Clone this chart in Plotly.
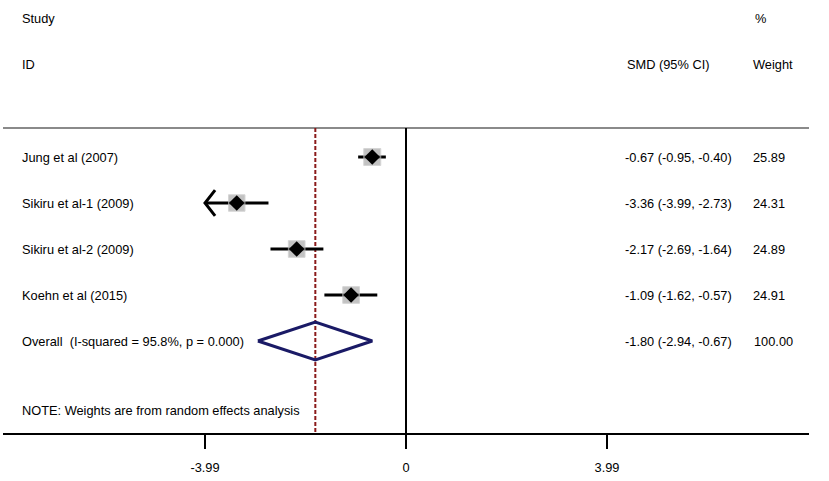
import plotly.graph_objects as go

# ---- data ----
studies = ["Jung et al (2007)", "Sikiru et al-1 (2009)", "Sikiru et al-2 (2009)", "Koehn et al (2015)"]
smd = [-0.67, -3.36, -2.17, -1.09]
ci_lo = [-0.95, -3.99, -2.69, -1.62]
ci_hi = [-0.40, -2.73, -1.64, -0.57]
weights = [25.89, 24.31, 24.89, 24.91]

overall_label = "Overall  (I-squared = 95.8%, p = 0.000)"
overall_smd = -1.80
overall_lo = -2.94
overall_hi = -0.67
overall_weight = 100.00

tick_vals = [-3.99, 0, 3.99]
tick_text = ["-3.99", "0", "3.99"]
note = "NOTE: Weights are from random effects analysis"

# ---- layout helpers ----
W, H = 829, 481
ML, MR, MT, MB = 3, 20, 0, 48
FONT = "Liberation Sans, Arial, sans-serif"
FS = 12.8
clip = min(tick_vals)

rows = list(range(len(studies)))
overall_row = len(studies)
top_line_row = -0.63
axis_row = 6.0


def px2paper(px):
    return (px - ML) / (W - ML - MR)


fig = go.Figure()

# CI lines
xs, ys = [], []
for r, lo, hi in zip(rows, ci_lo, ci_hi):
    xs += [max(lo, clip), hi, None]
    ys += [r, r, None]
fig.add_trace(go.Scatter(x=xs, y=ys, mode="lines", line=dict(color="black", width=3),
                         hoverinfo="skip", showlegend=False))

# arrows for clipped CIs
ax, ay = [], []
for r, lo in zip(rows, ci_lo):
    if lo <= clip:
        ax += [clip + 0.2, clip, clip + 0.2, None]
        ay += [r - 0.28, r, r + 0.28, None]
if ax:
    fig.add_trace(go.Scatter(x=ax, y=ay, mode="lines", line=dict(color="black", width=3),
                             hoverinfo="skip", showlegend=False))

# weight boxes
maxw = max(weights)
fig.add_trace(go.Scatter(x=smd, y=rows, mode="markers",
                         marker=dict(symbol="square", size=[17 * (w / maxw) ** 0.5 for w in weights],
                                     color="#a9a9a9", line=dict(width=1, color="#c4c4c4")),
                         hoverinfo="skip", showlegend=False))
# point estimates
fig.add_trace(go.Scatter(x=smd, y=rows, mode="markers",
                         marker=dict(symbol="diamond", size=12, color="black", line=dict(width=0)),
                         hoverinfo="skip", showlegend=False))

# overall diamond
hh = 0.41
fig.add_trace(go.Scatter(
    x=[overall_lo, overall_smd, overall_hi, overall_smd, overall_lo],
    y=[overall_row, overall_row - hh, overall_row, overall_row + hh, overall_row],
    mode="lines", line=dict(color="#1a1a66", width=3), hoverinfo="skip", showlegend=False))

# shapes
fig.add_shape(type="line", xref="paper", yref="y", x0=0, x1=1, y0=top_line_row, y1=top_line_row,
              line=dict(color="#8a8a8a", width=2), layer="below")
fig.add_shape(type="line", xref="x", yref="y", x0=0, x1=0, y0=top_line_row, y1=axis_row,
              line=dict(color="black", width=2), layer="below")
fig.add_shape(type="line", xref="x", yref="y", x0=overall_smd, x1=overall_smd, y0=top_line_row, y1=axis_row,
              line=dict(color="#8b1a1a", width=2, dash="4px,2px"), layer="below")

# text
def txt(px, row, s):
    fig.add_annotation(x=px2paper(px), xref="paper", y=row, yref="y", text=s, showarrow=False,
                       xanchor="left", yanchor="middle", xshift=-2,
                       font=dict(family=FONT, size=FS, color="black"))

txt(22, -3.02, "Study")
txt(22, -2.02, "ID")
txt(755, -3.02, "%")
txt(627, -2.02, "SMD (95% CI)")
txt(753, -2.02, "Weight")
for r, s, e, lo, hi, w in zip(rows, studies, smd, ci_lo, ci_hi, weights):
    txt(22, r, s)
    txt(625, r, f"{e:.2f} ({lo:.2f}, {hi:.2f})")
    txt(753, r, f"{w:.2f}")
txt(22, overall_row, overall_label)
txt(625, overall_row, f"{overall_smd:.2f} ({overall_lo:.2f}, {overall_hi:.2f})")
txt(754, overall_row, f"{overall_weight:.2f}")
txt(22, 5.5, note)

fig.update_layout(
    width=W, height=H, margin=dict(l=ML, r=MR, t=MT, b=MB),
    paper_bgcolor="white", plot_bgcolor="white",
    font=dict(family=FONT, size=FS, color="black"),
    xaxis=dict(range=[-8, 8], showgrid=False, zeroline=False, showline=True, linecolor="black",
               linewidth=2, ticks="outside", ticklen=14, tickwidth=2, tickcolor="black",
               tickvals=tick_vals, ticktext=tick_text, ticklabelstandoff=8,
               tickfont=dict(family=FONT, size=FS, color="black"), fixedrange=True),
    yaxis=dict(range=[axis_row, -3.413], visible=False, fixedrange=True),
)

fig.write_html("out.html", config={"displayModeBar": False},
               post_script="document.body.style.margin='0';document.body.style.overflow='hidden';")
